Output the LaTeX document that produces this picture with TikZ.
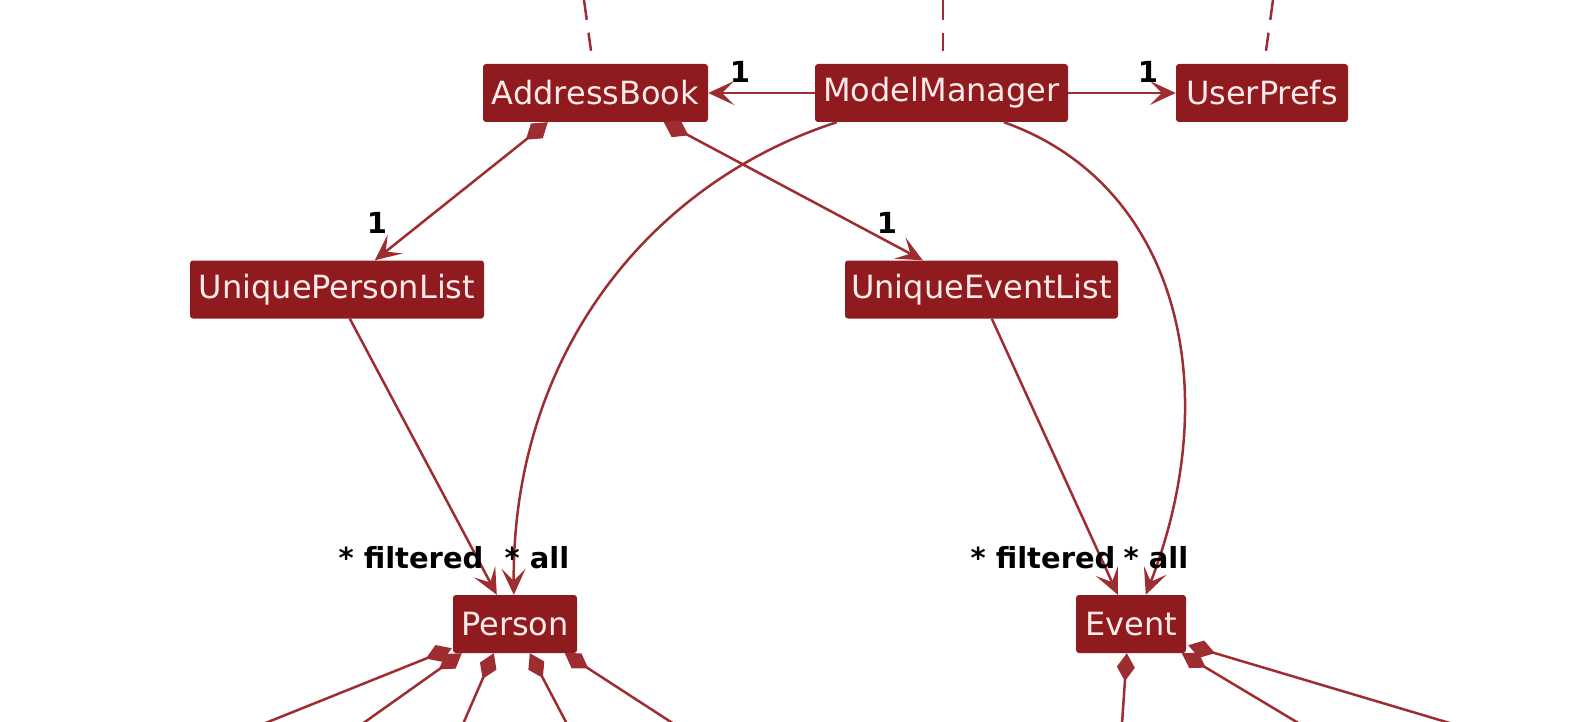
\documentclass[tikz,border=0pt]{standalone}
\usepackage{fontspec}
\setmainfont{DejaVu Sans}
\usetikzlibrary{arrows.meta,calc}

\definecolor{boxred}{RGB}{143,27,30}
\definecolor{linered}{RGB}{158,45,50}
\definecolor{boxtext}{RGB}{255,234,234}

\tikzset{
  cls/.style={fill=boxred,text=boxtext,rounded corners=3pt,minimum height=58pt,
    inner sep=0pt,font=\fontsize{32}{36}\selectfont},
  lnk/.style={draw=linered,line width=2.5pt},
  arr/.style={lnk,-{Stealth[length=26pt,width=24pt,inset=12pt]}},
  own/.style={lnk,{Diamond[length=28pt,width=19pt]}-{Stealth[length=26pt,width=24pt,inset=12pt]}},
  comp/.style={lnk,{Diamond[length=28pt,width=18pt]}-},
  tie/.style={lnk,dash pattern=on 20pt off 13pt},
  mult/.style={text=black,font=\bfseries\fontsize{29}{32}\selectfont},
}

\begin{document}
\begin{tikzpicture}[x=1pt,y=-1pt]
  \useasboundingbox (0,0) rectangle (1590,722);

  % classes
  \node[cls,minimum width=225pt] (ab)  at (595.5,93) {AddressBook};
  \node[cls,minimum width=253pt] (mm)  at (941.5,93) {ModelManager};
  \node[cls,minimum width=172pt] (up)  at (1262,93) {UserPrefs};
  \node[cls,minimum width=294pt] (upl) at (337,289.5) {UniquePersonList};
  \node[cls,minimum width=273pt] (uel) at (981.5,289.5) {UniqueEventList};
  \node[cls,minimum width=124pt] (per) at (515,624) {Person};
  \node[cls,minimum width=110pt] (evt) at (1131,624) {Event};

  % ligacoes tracejadas vindas de cima
  \coordinate (abtop) at (584,0);
  \coordinate (mmtop) at (943,0);
  \coordinate (uptop) at (1273,0);
  \draw[tie] (abtop) -- ($(ab.north)+(-4.5,-13)$);
  \draw[tie] (mmtop) -- ($(mm.north)+(1.5,-13)$);
  \draw[tie] (uptop) -- ($(up.north)+(4,-13)$);

  % ModelManager -> AddressBook, UserPrefs
  \draw[arr] (mm.west) -- (ab.east);
  \draw[arr] (mm.east) -- (up.west);
  \node[mult] (mab) at (740,72) {1};
  \node[mult] (mup) at (1148,72) {1};

  % AddressBook -> listas
  \draw[own] ($(ab.south west)+(65,0)$) -- ($(upl.north west)+(185,0)$);
  \draw[own] ($(ab.south west)+(181,0)$) -- ($(uel.north west)+(78,0)$);
  \node[mult] (mupl) at (377,223) {1};
  \node[mult] (muel) at (887,223) {1};

  % listas e ModelManager -> Person
  \draw[arr] ($(upl.south west)+(160,0)$) -- ($(per.north west)+(44,0)$);
  \draw[arr] ($(mm.south west)+(22,0)$) .. controls (649,183) and (512,355) .. ($(per.north west)+(61,0)$);
  \node[mult] (mpf) at (411,558) {* filtered};
  \node[mult] (mpa) at (537,558) {* all};

  % listas e ModelManager -> Event
  \draw[arr] ($(uel.south west)+(147,0)$) -- ($(evt.north west)+(42,0)$);
  \draw[arr] ($(mm.south west)+(189,0)$) .. controls (1176,183) and (1227,385) .. ($(evt.north west)+(70,0)$);
  \node[mult] (mef) at (1043,558) {* filtered};
  \node[mult] (mea) at (1156,558) {* all};

  % composicoes de Person (saem pela borda de baixo)
  \coordinate (pc1) at (263,724);
  \coordinate (pc2) at (362,724);
  \coordinate (pc3) at (463,724);
  \coordinate (pc4) at (567,724);
  \coordinate (pc5) at (674,724);
  \draw[comp] ($(per.south west)+(-1,-5)$) -- (pc1);
  \draw[comp] ($(per.south west)+(9,0)$) -- (pc2);
  \draw[comp] ($(per.south west)+(41,0)$) -- (pc3);
  \draw[comp] ($(per.south west)+(77,0)$) -- (pc4);
  \draw[comp] ($(per.south west)+(112,0)$) -- (pc5);

  % composicoes de Event
  \coordinate (ec1) at (1122,724);
  \coordinate (ec2) at (1300,724);
  \coordinate (ec3) at (1453,724);
  \draw[comp] ($(evt.south west)+(51,0)$) -- (ec1);
  \draw[comp] ($(evt.south west)+(106,0)$) -- (ec2);
  \draw[comp] ($(evt.south east)+(2,-8)$) -- (ec3);

\end{tikzpicture}
\end{document}
